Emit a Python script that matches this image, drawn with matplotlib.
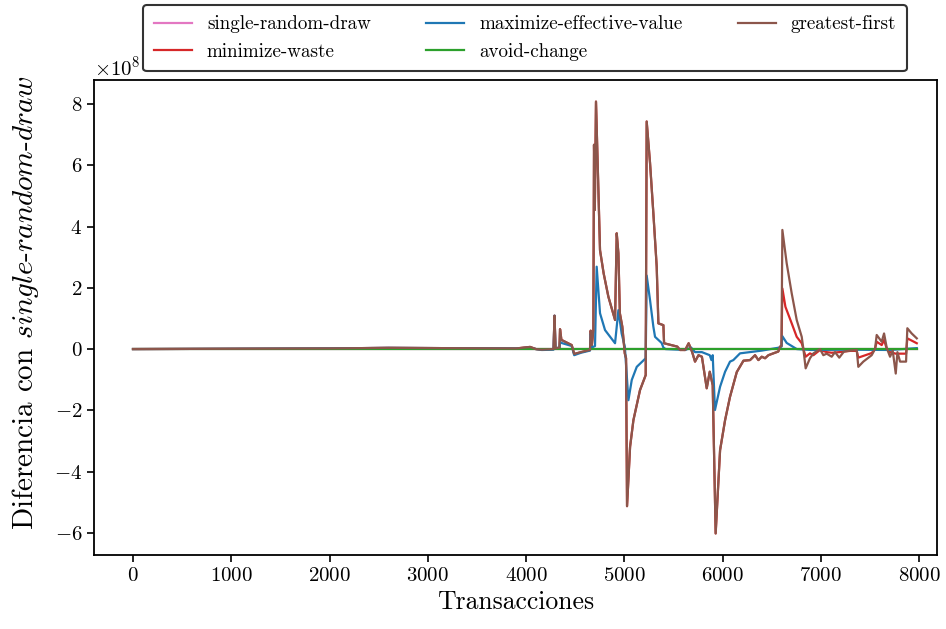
import matplotlib
matplotlib.use("Agg")
import matplotlib.pyplot as plt

plt.rcParams["font.family"] = "cmr10"
plt.rcParams["mathtext.fontset"] = "cm"
plt.rcParams["axes.formatter.use_mathtext"] = True
plt.rcParams["axes.unicode_minus"] = True

# diferencias respecto a single-random-draw (en unidades de 1e8)
x_greatest = [0, 1000, 2000, 2600, 3200, 3900, 4041, 4100, 4160, 4280, 4290, 4300,
              4340, 4346, 4360, 4465, 4490, 4560, 4651, 4658, 4670, 4685, 4692, 4700,
              4712, 4753, 4790, 4838, 4906, 4923, 4940, 4955, 4980, 5005, 5018, 5028,
              5059, 5093, 5160, 5218, 5228, 5262, 5296, 5330, 5347, 5398, 5405, 5540,
              5567, 5620, 5655, 5690, 5720, 5755, 5790, 5839, 5870, 5900, 5930, 5975,
              6026, 6076, 6145, 6213, 6280, 6331, 6365, 6399, 6433, 6467, 6517, 6568,
              6585, 6600, 6609, 6653, 6704, 6755, 6806, 6823, 6846, 6890, 6925, 6992,
              7026, 7060, 7111, 7145, 7188, 7236, 7298, 7366, 7382, 7433, 7518, 7552,
              7569, 7620, 7644, 7672, 7705, 7732, 7763, 7780, 7807, 7868, 7881, 7925,
              7977]
y_greatest = [0.0, 0.01, 0.02, 0.04, 0.03, 0.02, 0.07, 0.0, -0.02, 0.0, 1.09, 0.02,
              0.05, 0.65, 0.3, 0.13, -0.16, -0.1, -0.03, 0.6, 0.13, 0.6, 6.67, 4.54,
              8.08, 3.23, 2.47, 1.71, 0.95, 3.78, 3.13, 1.17, 0.73, -0.14, -0.3, -5.13,
              -3.19, -2.32, -1.34, -0.85, 7.43, 6.08, 4.43, 2.69, 0.84, 0.78, 0.19, 0.08,
              -0.03, -0.03, 0.19, -0.09, -0.41, -0.2, -0.25, -1.28, -0.74, -1.18, -6.02, -3.3,
              -2.32, -1.56, -0.75, -0.38, -0.36, -0.2, -0.36, -0.25, -0.3, -0.2, -0.14, -0.08,
              0.08, 0.1, 3.89, 2.8, 1.82, 0.95, 0.4, 0.0, -0.63, -0.3, -0.14, 0.0,
              -0.2, -0.15, -0.25, -0.1, -0.28, -0.08, -0.05, -0.03, -0.58, -0.41, -0.2, 0.0,
              0.46, 0.24, 0.51, 0.03, -0.25, -0.05, -0.8, -0.1, -0.41, -0.41, 0.68, 0.51,
              0.35]

x_waste_tail = [6609, 6640, 6704, 6755, 6806, 6823, 6846, 6890, 6925, 6992, 7060,
                7111, 7188, 7298, 7366, 7382, 7518, 7552, 7569, 7620, 7644, 7672, 7705,
                7763, 7807, 7868, 7881, 7977]
y_waste_tail = [1.98, 1.38, 0.84, 0.4, 0.19, 0.0, -0.25, -0.14, -0.2, -0.03, -0.1,
                -0.12, -0.1, -0.06, -0.06, -0.28, -0.13, 0.0, 0.24, 0.13, 0.3, 0.0, -0.1,
                -0.15, -0.15, -0.15, 0.35, 0.19]

x_max_eff = [0, 1000, 2000, 2600, 3200, 3900, 4041, 4100, 4160, 4280, 4290, 4300,
             4340, 4346, 4360, 4465, 4490, 4560, 4651, 4658, 4670, 4702, 4719, 4753,
             4804, 4906, 4940, 4973, 5006, 5042, 5076, 5127, 5218, 5228, 5262, 5296,
             5313, 5380, 5398, 5420, 5620, 5680, 5720, 5790, 5870, 5887, 5900, 5923,
             5975, 6026, 6076, 6110, 6178, 6400, 6580, 6600, 6609, 6653, 6755, 6900,
             7300, 7700, 7977]
y_max_eff = [0.0, 0.01, 0.02, 0.04, 0.03, 0.02, 0.05, 0.0, -0.03, -0.02, 1.09, 0.02,
             0.05, 0.24, 0.2, 0.1, -0.2, -0.12, -0.05, 0.5, 0.05, 0.1, 2.69, 1.17,
             0.62, 0.19, 1.27, 0.51, 0.07, -1.67, -1.01, -0.58, -0.3, 2.4, 1.6, 0.73,
             0.4, 0.2, 0.05, 0.0, -0.03, 0.05, -0.1, -0.1, -0.2, -0.36, -0.2, -1.99,
             -1.23, -0.74, -0.41, -0.36, -0.14, -0.05, 0.05, 0.08, 0.42, 0.2, 0.0, -0.03,
             -0.02, -0.03, 0.03]

x_flat = [0, 7977]
y_flat = [0.0, 0.0]

# minimize-waste coincide con greatest-first hasta el pico de ~6600
cut = x_greatest.index(6600)
x_waste = x_greatest[:cut + 1] + x_waste_tail
y_waste = y_greatest[:cut + 1] + y_waste_tail

scale = 1e8
fig = plt.figure(figsize=(9.46, 6.29), dpi=100)
ax = fig.add_axes([0.0994, 0.1176, 0.8911, 0.7552])

ax.plot(x_flat, [v * scale for v in y_flat], color="tab:pink", lw=1.6, label="single-random-draw")
ax.plot(x_waste, [v * scale for v in y_waste], color="tab:red", lw=1.6, label="minimize-waste")
ax.plot(x_max_eff, [v * scale for v in y_max_eff], color="tab:blue", lw=1.6, label="maximize-effective-value")
ax.plot(x_flat, [v * scale for v in y_flat], color="tab:green", lw=1.6, label="avoid-change")
ax.plot(x_greatest, [v * scale for v in y_greatest], color="tab:brown", lw=1.6, label="greatest-first")

ax.set_xlim(-397, 8183)
ax.set_xticks(range(0, 8001, 1000))
ax.set_yticks([v * scale for v in [-6, -4, -2, 0, 2, 4, 6, 8]])
ax.tick_params(labelsize=15, direction="out", length=5, width=1.2)
for sp in ax.spines.values():
    sp.set_linewidth(1.3)
ax.yaxis.get_offset_text().set_fontsize(15)

ax.set_xlabel("Transacciones", fontsize=18.5, labelpad=4)
ax.set_ylabel(r"Diferencia con $\mathit{single}$-$\mathit{random}$-$\mathit{draw}$", fontsize=21)
ax.yaxis.set_label_coords(-0.0635, 0.532)

leg = fig.legend(loc="upper center", bbox_to_anchor=(0.555, 0.992), ncol=3, fontsize=13.7,
                 handlelength=2.0, columnspacing=2.9, borderpad=0.55, borderaxespad=0,
                 frameon=True, framealpha=1)
leg.get_frame().set_edgecolor("#333333")
leg.get_frame().set_linewidth(1.5)

fig.savefig("out.png", dpi=100)
